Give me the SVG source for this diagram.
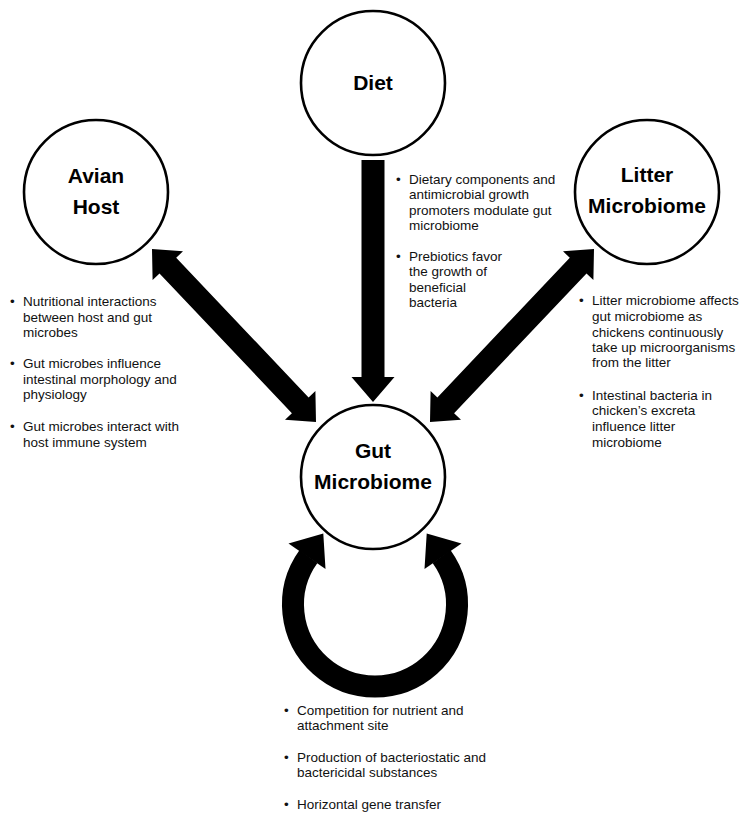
<svg xmlns="http://www.w3.org/2000/svg" width="755" height="820" viewBox="0 0 755 820">
<style>
.node circle{fill:#fff;stroke:#000;stroke-width:2.6}
.lbl{font-family:"Liberation Sans",Arial,sans-serif;font-weight:bold;font-size:21px;text-anchor:middle;fill:#000}
.txt{font-family:"Liberation Sans",Arial,sans-serif;font-size:13.5px;fill:#111}
.arr{fill:#000}
</style>
<rect width="755" height="820" fill="#fff"/>
<g id="connectors">
<polygon class="arr" points="361.5,160 384.5,160 384.5,377 394.5,377 373,402 351.5,377 361.5,377"/>
<polygon class="arr" points="152,249 183,251.3 176.2,257.8 308.6,397.4 315.4,390.9 316,422 285,419.7 291.9,413.2 159.5,273.6 152.6,280.1"/>
<polygon class="arr" points="594,249 563,251.3 569.8,257.8 437.4,397.4 430.6,390.9 430,422 461,419.7 454.1,413.2 586.5,273.6 593.4,280.1"/>
<path d="M308.5 556.5 A82 82 0 1 0 441.5 556.5" fill="none" stroke="#000" stroke-width="22"/>
<polygon class="arr" points="323.3,533.5 288.5,543.5 325.5,569"/>
<polygon class="arr" points="426.7,533.5 461.5,543.5 424.5,569"/>
</g>
<g id="diet" class="node">
<circle cx="373" cy="83" r="72"/>
<text class="lbl" x="373" y="90">Diet</text>
</g>
<g id="avian-host" class="node">
<circle cx="96" cy="192" r="72"/>
<text class="lbl" x="96" y="183">Avian</text>
<text class="lbl" x="96" y="214">Host</text>
</g>
<g id="litter-microbiome" class="node">
<circle cx="647" cy="192" r="72"/>
<text class="lbl" x="647" y="182">Litter</text>
<text class="lbl" x="647" y="213">Microbiome</text>
</g>
<g id="gut-microbiome" class="node">
<circle cx="373" cy="477" r="72"/>
<text class="lbl" x="373" y="458">Gut</text>
<text class="lbl" x="373" y="489">Microbiome</text>
</g>
<g id="diet-notes" class="txt">
<text x="396" y="184">•</text>
<text x="409" y="184">Dietary components and</text>
<text x="409" y="199">antimicrobial growth</text>
<text x="409" y="215">promoters modulate gut</text>
<text x="409" y="230">microbiome</text>
<text x="396" y="261">•</text>
<text x="409" y="261">Prebiotics favor</text>
<text x="409" y="276">the growth of</text>
<text x="409" y="292">beneficial</text>
<text x="409" y="307">bacteria</text>
</g>
<g id="host-notes" class="txt">
<text x="10" y="306">•</text>
<text x="23" y="306">Nutritional interactions</text>
<text x="23" y="322">between host and gut</text>
<text x="23" y="337">microbes</text>
<text x="10" y="368">•</text>
<text x="23" y="368">Gut microbes influence</text>
<text x="23" y="384">intestinal morphology and</text>
<text x="23" y="399">physiology</text>
<text x="10" y="431">•</text>
<text x="23" y="431">Gut microbes interact with</text>
<text x="23" y="447">host immune system</text>
</g>
<g id="litter-notes" class="txt">
<text x="579" y="305">•</text>
<text x="592" y="305">Litter microbiome affects</text>
<text x="592" y="321">gut microbiome as</text>
<text x="592" y="337">chickens continuously</text>
<text x="592" y="352">take up microorganisms</text>
<text x="592" y="367">from the litter</text>
<text x="579" y="400">•</text>
<text x="592" y="400">Intestinal bacteria in</text>
<text x="592" y="415">chicken’s excreta</text>
<text x="592" y="431">influence litter</text>
<text x="592" y="447">microbiome</text>
</g>
<g id="gut-notes" class="txt">
<text x="284" y="715">•</text>
<text x="297" y="715">Competition for nutrient and</text>
<text x="297" y="730">attachment site</text>
<text x="284" y="762">•</text>
<text x="297" y="762">Production of bacteriostatic and</text>
<text x="297" y="777">bactericidal substances</text>
<text x="284" y="809">•</text>
<text x="297" y="809">Horizontal gene transfer</text>
</g>
</svg>
